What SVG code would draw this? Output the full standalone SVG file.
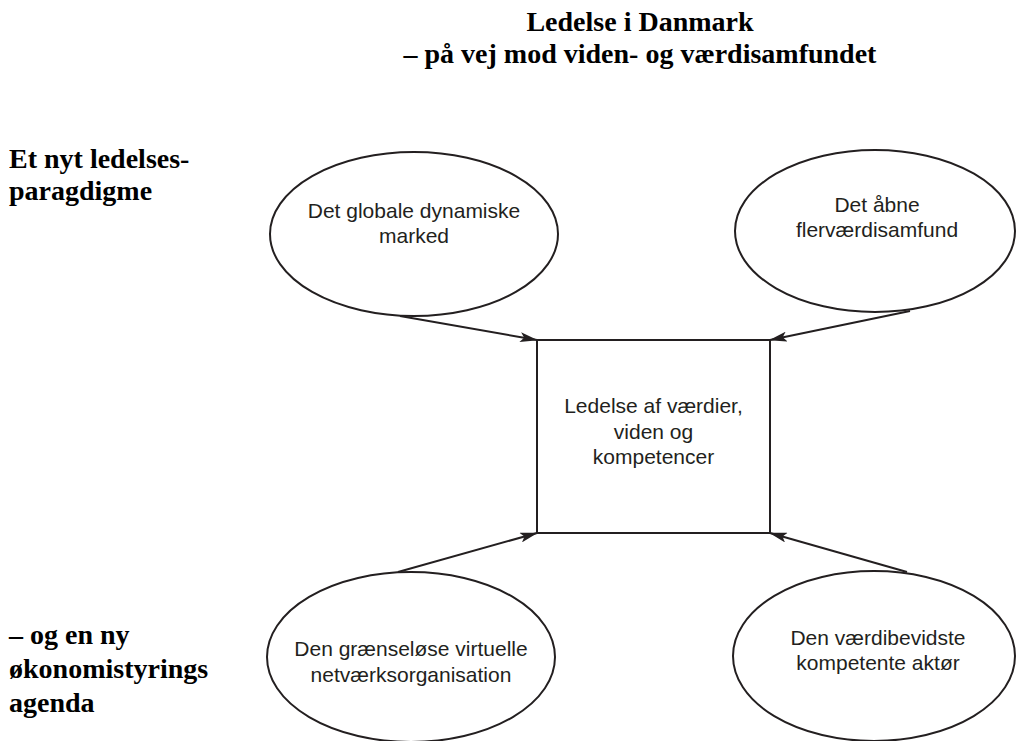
<svg xmlns="http://www.w3.org/2000/svg" width="1017" height="741" viewBox="0 0 1017 741">
<style>
.shape{fill:#fff;stroke:#231f20;stroke-width:2}
.lbl{font-family:"Liberation Sans",Arial,sans-serif;font-size:21px;fill:#231f20;text-anchor:middle}
.hd{font-family:"Liberation Serif","Times New Roman",serif;font-weight:bold;font-size:28px;fill:#000}
.conn{stroke:#231f20;stroke-width:2;fill:none;marker-end:url(#arr)}
</style>
<defs>
<marker id="arr" viewBox="0 0 18 10" refX="17" refY="5" markerWidth="18" markerHeight="10" markerUnits="userSpaceOnUse" orient="auto">
<path d="M0,0 L18,5 L0,10 L4,5 z" fill="#231f20"/>
</marker>
</defs>
<rect width="1017" height="741" fill="#fff"/>
<g id="title">
<text class="hd" x="640" y="31" text-anchor="middle">Ledelse i Danmark</text>
<text class="hd" x="640" y="63" text-anchor="middle">– på vej mod viden- og værdisamfundet</text>
</g>
<g id="label-top">
<text class="hd" x="9" y="168">Et nyt ledelses-</text>
<text class="hd" x="9" y="200">paragdigme</text>
</g>
<g id="label-bottom">
<text class="hd" x="9" y="644">– og en ny</text>
<text class="hd" x="9" y="678">økonomistyrings</text>
<text class="hd" x="9" y="712">agenda</text>
</g>
<g id="connectors">
<line class="conn" x1="400" y1="316" x2="537" y2="340"/>
<line class="conn" x1="910" y1="311" x2="770" y2="340"/>
<line class="conn" x1="398" y1="572" x2="537" y2="533"/>
<line class="conn" x1="907" y1="572" x2="770" y2="533"/>
</g>
<g id="node-center">
<rect class="shape" x="537" y="340" width="233" height="193"/>
<text class="lbl" x="653.5" y="413">Ledelse af værdier,</text>
<text class="lbl" x="653.5" y="439">viden og</text>
<text class="lbl" x="653.5" y="464">kompetencer</text>
</g>
<g id="node-global">
<ellipse class="shape" cx="414" cy="234" rx="144" ry="82"/>
<text class="lbl" x="414" y="218">Det globale dynamiske</text>
<text class="lbl" x="414" y="243">marked</text>
</g>
<g id="node-open">
<ellipse class="shape" cx="875" cy="231" rx="140" ry="81"/>
<text class="lbl" x="877" y="212">Det åbne</text>
<text class="lbl" x="877" y="237">flerværdisamfund</text>
</g>
<g id="node-network">
<ellipse class="shape" cx="411" cy="657" rx="144" ry="85"/>
<text class="lbl" x="411" y="656">Den grænseløse virtuelle</text>
<text class="lbl" x="411" y="682">netværksorganisation</text>
</g>
<g id="node-actor">
<ellipse class="shape" cx="874" cy="656" rx="141" ry="85"/>
<text class="lbl" x="878" y="645">Den værdibevidste</text>
<text class="lbl" x="878" y="670">kompetente aktør</text>
</g>
</svg>
